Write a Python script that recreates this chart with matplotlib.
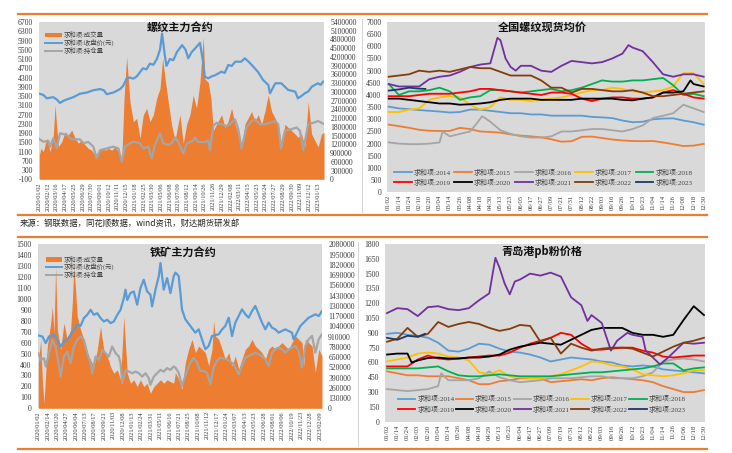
import matplotlib
matplotlib.use("Agg")
import matplotlib.pyplot as plt
from matplotlib.lines import Line2D
from matplotlib.patches import Rectangle
import numpy as np

plt.rcParams['font.family'] = ['Liberation Serif', 'Noto Sans CJK SC', 'DejaVu Sans']

ORANGE = '#ED7D31'
BLUE = '#5B9BD5'
GRAY = '#A5A5A5'
BG = '#D9D9D9'
TXT = '#3A3A3A'
CJK = ['Noto Sans CJK SC', 'DejaVu Sans']

# --------------------------------------------------------------------------- #
# Rebar main contract (x in tick-label units, one label every ~22 sessions)
# --------------------------------------------------------------------------- #
rb_dates = ['2020/01/02', '2020/02/12', '2020/03/16', '2020/04/17', '2020/05/25',
            '2020/06/29', '2020/07/30', '2020/09/01', '2020/10/12', '2020/11/11',
            '2020/12/15', '2021/01/18', '2021/02/25', '2021/03/30', '2021/05/06',
            '2021/06/08', '2021/07/09', '2021/08/12', '2021/09/14', '2021/10/26',
            '2021/11/26', '2021/12/29', '2022/02/08', '2022/03/11', '2022/04/15',
            '2022/05/23', '2022/06/24', '2022/07/27', '2022/08/29', '2022/09/30',
            '2022/11/09', '2022/12/12', '2023/01/13']

rb_close_x = [0, 0.46, 0.85, 1.6, 2.0, 2.38, 2.8, 3.15, 3.9, 4.67, 5.44, 6.2, 6.97, 7.4,
              7.74, 8.5, 9.27, 9.65, 10.03, 10.4, 10.8, 11.2, 11.9, 12.3, 12.7, 13.1,
              13.5, 13.86, 14.1, 14.4, 14.6, 15.0, 15.4, 15.8, 16.4, 16.8, 17.1, 17.5,
              17.9, 18.45, 18.8, 19.0, 19.4, 19.8, 20.2, 20.9, 21.3, 21.7, 22.1, 22.5,
              23.2, 23.6, 24.0, 24.4, 25.1, 25.7, 26.3, 26.5, 27.1, 27.8, 28.2, 28.6,
              29.4, 29.7, 30.1, 30.5, 30.9, 31.3, 32.0, 32.3, 32.6]
rb_close = [3600, 3550, 3400, 3450, 3350, 3200, 3300, 3350, 3450, 3600, 3650, 3750, 3800,
            3750, 3580, 3650, 3800, 3950, 4250, 4300, 4250, 4350, 4700, 4650, 4900, 4850,
            5100, 5500, 6200, 5300, 4800, 5100, 5050, 5400, 5700, 5500, 5130, 5400, 5560,
            5800, 5000, 4335, 4266, 4350, 4400, 4550, 4500, 4840, 4800, 4985, 4985, 5130,
            5000, 4840, 4550, 4193, 3977, 3617, 4050, 4050, 3900, 3760, 3690, 3400, 3500,
            3617, 3700, 3905, 4050, 3980, 4120]

rb_oi_x = [0, 0.46, 1.04, 1.23, 1.61, 1.99, 2.38, 3.14, 3.72, 4.67, 5.06, 5.63, 6.2, 6.59,
           6.97, 7.74, 8.5, 9.08, 9.46, 9.84, 10.41, 10.8, 11.56, 11.94, 12.52, 12.9,
           13.28, 13.86, 14.24, 14.81, 15.2, 15.58, 15.96, 16.53, 16.92, 17.68, 17.87,
           18.25, 19.02, 19.4, 19.59, 19.98, 20.36, 20.94, 21.51, 22.08, 22.47, 22.85,
           23.23, 23.8, 24.38, 24.76, 25.34, 25.91, 26.48, 27.06, 27.44, 27.75, 28.21,
           28.97, 29.55, 29.93, 30.31, 30.89, 31.46, 32.03, 32.6]
rb_oi = [1380000, 1290000, 1320000, 1120000, 1410000, 1060000, 1580000, 1520000, 1370000,
         1370000, 1240000, 1280000, 1120000, 720000, 1000000, 1060000, 1120000, 1060000,
         600000, 1120000, 1240000, 1290000, 1240000, 1060000, 1120000, 720000, 1180000,
         1580000, 1240000, 1180000, 1240000, 1440000, 1280000, 890000, 1220000, 1330000,
         1440000, 1280000, 1280000, 1330000, 1000000, 1830000, 1940000, 1890000, 1830000,
         1940000, 2060000, 1720000, 1060000, 1780000, 2000000, 2060000, 1890000, 1890000,
         1940000, 2000000, 1890000, 1060000, 1670000, 1720000, 1780000, 1670000, 1000000,
         1890000, 1940000, 2000000, 1910000]

rb_vol_x = [0, 0.19, 0.46, 0.85, 1.23, 1.61, 1.8, 2.18, 2.57, 2.95, 3.33, 3.72, 4.1, 4.48,
            4.86, 5.25, 5.63, 6.01, 6.4, 6.78, 7.16, 7.54, 7.93, 8.31, 8.69, 9.08, 9.46,
            9.73, 10.03, 10.41, 10.8, 11.18, 11.56, 11.94, 12.33, 12.71, 13.09, 13.48,
            13.86, 14.16, 14.43, 14.81, 15.2, 15.58, 16.15, 16.53, 16.92, 17.3, 17.68,
            18.06, 18.45, 18.83, 19.02, 19.4, 19.71, 19.98, 20.36, 20.94, 21.32, 21.7,
            22.08, 22.47, 22.85, 23.23, 23.61, 24.0, 24.38, 24.76, 25.15, 25.53, 25.91,
            26.29, 26.68, 27.06, 27.44, 27.82, 28.21, 28.59, 28.97, 29.35, 29.73, 30.12,
            30.5, 30.89, 31.27, 31.65, 32.03, 32.42, 32.7]
rb_volume = [830000, 1060000, 950000, 1410000, 950000, 1520000, 2550000, 1120000, 1290000,
             1630000, 1520000, 1690000, 1410000, 1240000, 1350000, 1180000, 1060000,
             1000000, 830000, 950000, 1060000, 1000000, 1060000, 1000000, 1120000, 950000,
             600000, 2780000, 4210000, 2660000, 1980000, 2090000, 1410000, 2210000,
             2440000, 1980000, 2210000, 2780000, 3120000, 4150000, 3470000, 2660000,
             1860000, 1330000, 2220000, 1220000, 1890000, 2220000, 2890000, 2440000,
             3330000, 4890000, 3440000, 3330000, 2780000, 1670000, 1890000, 2220000,
             1780000, 2000000, 2440000, 1890000, 1560000, 1110000, 1890000, 2110000,
             2330000, 2000000, 2220000, 1890000, 2330000, 2890000, 2330000, 2110000,
             1890000, 1110000, 1890000, 1780000, 1670000, 1560000, 1440000, 1560000,
             1110000, 2670000, 1560000, 1330000, 1110000, 1560000, 1610000]

# --------------------------------------------------------------------------- #
# Iron ore main contract
# --------------------------------------------------------------------------- #
io_dates = ['2020/01/02', '2020/02/14', '2020/03/20', '2020/04/27', '2020/06/04',
            '2020/07/13', '2020/08/17', '2020/09/21', '2020/11/03', '2020/12/08',
            '2021/01/13', '2021/02/24', '2021/03/31', '2021/05/11', '2021/06/16',
            '2021/07/21', '2021/08/25', '2021/10/08', '2021/11/12', '2021/12/17',
            '2022/01/24', '2022/03/07', '2022/04/13', '2022/05/23', '2022/06/28',
            '2022/08/01', '2022/09/06', '2022/10/19', '2022/11/23', '2022/12/28',
            '2023/02/09']

io_close_x = [0, 0.42, 0.78, 1.13, 1.66, 2.02, 2.37, 2.72, 3.08, 3.43, 3.78, 4.14, 4.5,
              4.85, 5.2, 5.56, 5.91, 6.27, 6.62, 6.97, 7.33, 7.68, 8.03, 8.4, 8.75, 9.1,
              9.28, 9.46, 9.81, 10.16, 10.52, 10.87, 11.22, 11.58, 11.93, 12.11, 12.47,
              12.82, 13.0, 13.35, 13.71, 14.06, 14.41, 14.59, 14.94, 15.12, 15.29, 15.65,
              16.18, 16.71, 17.07, 17.42, 17.78, 18.13, 18.49, 19.2, 19.56, 19.91, 20.27,
              20.62, 20.97, 21.33, 21.68, 22.04, 22.39, 22.75, 23.1, 23.46, 23.81, 24.17,
              24.52, 24.87, 25.23, 25.58, 25.94, 26.29, 26.65, 27.0, 27.18, 27.54, 27.9,
              28.43, 28.78, 29.14, 29.49, 29.85, 30.2]
io_close = [666, 657, 596, 657, 672, 626, 565, 611, 626, 672, 718, 764, 755, 825, 855, 901,
            855, 870, 825, 794, 810, 779, 794, 855, 901, 1008, 1085, 990, 1054, 1069, 947,
            1100, 1176, 1069, 1039, 932, 1085, 1207, 1329, 1085, 1191, 1054, 1207, 1241,
            1210, 1058, 905, 814, 753, 692, 722, 631, 540, 570, 661, 677, 722, 753, 829,
            661, 784, 844, 905, 860, 829, 890, 936, 860, 784, 722, 784, 738, 722, 692, 707,
            722, 707, 692, 631, 692, 753, 799, 829, 844, 860, 844, 890]

io_oi_x = [0, 0.25, 0.6, 0.78, 1.13, 1.49, 1.84, 2.2, 2.37, 2.72, 3.08, 3.43, 3.78, 4.14,
           4.5, 4.85, 5.2, 5.56, 5.73, 6.09, 6.44, 6.8, 7.15, 7.5, 7.86, 8.22, 8.57, 8.75,
           8.93, 9.28, 9.63, 9.99, 10.34, 10.7, 11.05, 11.4, 11.76, 11.93, 12.29, 12.64,
           13.0, 13.35, 13.71, 14.06, 14.41, 14.59, 14.94, 15.29, 15.82, 16.18, 16.53,
           16.89, 17.24, 17.6, 17.95, 18.31, 18.66, 19.02, 19.38, 20.09, 20.8, 21.15,
           21.33, 21.68, 22.04, 22.75, 23.1, 23.81, 24.17, 24.52, 24.87, 25.23, 25.58,
           25.94, 26.29, 26.65, 27.0, 27.36, 27.72, 28.07, 28.43, 28.78, 29.14, 29.49,
           29.85, 30.2]
io_oi = [699000, 614000, 635000, 530000, 699000, 868000, 783000, 530000, 402000, 656000,
         720000, 571000, 783000, 868000, 911000, 868000, 699000, 571000, 445000, 656000,
         614000, 742000, 699000, 656000, 783000, 699000, 656000, 571000, 318000, 487000,
         466000, 445000, 466000, 445000, 402000, 445000, 381000, 297000, 402000, 445000,
         487000, 466000, 509000, 487000, 530000, 516000, 452000, 283000, 473000, 580000,
         642000, 580000, 473000, 473000, 452000, 305000, 516000, 600000, 642000, 621000,
         559000, 473000, 431000, 537000, 642000, 685000, 706000, 664000, 621000, 537000,
         706000, 749000, 770000, 749000, 706000, 749000, 770000, 790000, 727000, 516000,
         790000, 875000, 918000, 706000, 875000, 939000]

io_vol_x = [0, 0.25, 0.42, 0.6, 0.95, 1.31, 1.49, 1.66, 1.84, 2.02, 2.37, 2.72, 3.08, 3.43,
            3.61, 3.78, 3.96, 4.14, 4.5, 4.85, 5.2, 5.56, 5.91, 6.27, 6.62, 6.8, 6.97,
            7.33, 7.68, 8.03, 8.4, 8.75, 9.1, 9.46, 9.81, 10.16, 10.52, 10.87, 11.22,
            11.58, 11.93, 12.29, 12.64, 13.0, 13.35, 13.71, 14.06, 14.41, 14.59, 14.94,
            15.29, 15.65, 16.0, 16.36, 16.71, 17.07, 17.42, 17.78, 18.13, 18.49, 18.66,
            18.84, 19.2, 19.56, 19.91, 20.27, 20.62, 20.97, 21.33, 21.68, 22.04, 22.39,
            22.75, 23.1, 23.46, 23.81, 24.17, 24.52, 24.87, 25.23, 25.58, 25.94, 26.29,
            26.65, 27.0, 27.36, 27.72, 28.07, 28.25, 28.43, 28.78, 29.14, 29.49, 29.85,
            30.2]
io_volume = [571000, 868000, 361000, 64000, 783000, 1080000, 1292000, 953000, 1800000,
             996000, 742000, 1080000, 868000, 996000, 1334000, 1800000, 1505000, 1165000,
             996000, 868000, 699000, 614000, 530000, 742000, 1037000, 868000, 742000,
             656000, 530000, 445000, 487000, 361000, 1165000, 445000, 318000, 361000,
             276000, 361000, 276000, 318000, 190000, 276000, 318000, 361000, 318000,
             361000, 338000, 318000, 452000, 367000, 241000, 580000, 749000, 875000,
             706000, 790000, 749000, 706000, 537000, 749000, 1108000, 918000, 875000,
             749000, 621000, 706000, 537000, 664000, 495000, 621000, 749000, 790000,
             875000, 790000, 749000, 706000, 621000, 749000, 790000, 749000, 790000,
             833000, 790000, 749000, 833000, 918000, 875000, 833000, 537000, 875000,
             833000, 790000, 453000, 749000, 664000]

# --------------------------------------------------------------------------- #
# National rebar spot average price, by year (x = date-label index)
# --------------------------------------------------------------------------- #
md_dates = ['01/02', '01/14', '01/24', '02/10', '02/20', '03/04', '03/14', '03/26',
            '04/08', '04/18', '04/30', '05/13', '05/23', '06/05', '06/17', '06/27',
            '07/09', '07/21', '07/31', '08/12', '08/22', '09/03', '09/16', '09/26',
            '10/13', '10/23', '11/04', '11/14', '11/26', '12/08', '12/18', '12/30']
days = list(range(32))

rb_spot_2014 = [3520, 3450, 3420, 3380, 3350, 3320, 3280, 3300, 3400, 3400, 3350, 3300,
                3250, 3250, 3200, 3200, 3150, 3150, 3150, 3150, 3100, 3080, 3050, 2950,
                2880, 2900, 3000, 3030, 3040, 2950, 2880, 2780]
rb_spot_2015 = [2780, 2720, 2650, 2570, 2530, 2520, 2520, 2650, 2600, 2500, 2480, 2450,
                2380, 2330, 2300, 2260, 2180, 2080, 2100, 2280, 2290, 2230, 2170, 2130,
                2110, 2100, 2110, 2050, 1980, 1900, 1920, 1990]
rb_spot_2016_x = [0, 1, 2, 3, 4, 5, 5.3, 6, 7, 8, 8.6, 9.2] + list(range(10, 32))
rb_spot_2016 = [2050, 2000, 1980, 1980, 2000, 2050, 2500, 2300, 2400, 2500, 2800, 3130,
                2900, 2550, 2400, 2300, 2250, 2250, 2300, 2500, 2500, 2550, 2600, 2600,
                2550, 2500, 2600, 2750, 3050, 3150, 3250, 3600, 3450, 3300]
rb_spot_2017 = [3300, 3300, 3400, 3450, 3800, 3900, 3950, 3900, 3600, 3400, 3500, 3900,
                3800, 3800, 3750, 3800, 3850, 3900, 4000, 4100, 4200, 4200, 4300, 4250,
                4150, 4100, 4150, 4200, 4350, 4900, 4900, 4450]
rb_spot_2018 = [4450, 4000, 4150, 4150, 4200, 4300, 4150, 3800, 3900, 3950, 4200, 4200,
                4150, 4100, 4150, 4200, 4250, 4150, 4200, 4300, 4450, 4600, 4550, 4550,
                4600, 4600, 4650, 4700, 4400, 4000, 4050, 3950]
rb_spot_2019 = [3950, 3950, 3950, 4000, 4050, 4050, 4050, 4100, 4150, 4250, 4250, 4200,
                4150, 4100, 4050, 4000, 4100, 4100, 4050, 3850, 3750, 3850, 3900, 3900,
                3850, 3850, 3900, 4100, 4200, 4050, 3900, 3850]
rb_spot_2020_x = list(range(30)) + [29.7, 30, 31]
rb_spot_2020 = [3850, 3850, 3800, 3750, 3700, 3650, 3650, 3600, 3620, 3650, 3700, 3800,
                3850, 3850, 3850, 3800, 3800, 3800, 3800, 3850, 3850, 3850, 3850, 3800,
                3780, 3850, 3900, 4100, 4100, 4150, 4600, 4450, 4350]
rb_spot_2021_x = list(range(11)) + [10.7, 11, 11.5, 12, 12.5] + list(range(13, 24)) + \
                 [23.6] + list(range(24, 32))
rb_spot_2021 = [4450, 4350, 4350, 4350, 4650, 4750, 4800, 4950, 5150, 5250, 5300, 6350,
                6250, 5500, 5150, 5000, 5200, 5200, 5000, 4950, 5200, 5400, 5350, 5300,
                5350, 5500, 5700, 6050, 5950, 5800, 5350, 4850, 4750, 4850, 4850, 4750]
rb_spot_2022 = [4750, 4800, 4850, 5000, 4950, 5000, 4950, 5050, 5150, 5100, 5100, 4950,
                4800, 4800, 4800, 4600, 4300, 4300, 4100, 4250, 4250, 4200, 4150, 4150,
                4200, 4100, 3950, 3950, 4000, 4050, 4100, 4150]
rb_spot_2023_x = [0, 1, 2, 3, 3.6]
rb_spot_2023 = [4180, 4230, 4300, 4260, 4250]

# --------------------------------------------------------------------------- #
# Qingdao port PB fines price, by year
# --------------------------------------------------------------------------- #
pb_dates = ['01/02', '01/14', '01/24', '02/03', '02/20', '03/04', '03/14', '03/26',
            '04/08', '04/18', '04/29', '05/13', '05/23', '06/04', '06/17', '06/27',
            '07/09', '07/19', '07/31', '08/12', '08/22', '09/03', '09/16', '09/26',
            '10/12', '10/23', '11/04', '11/14', '11/26', '12/06', '12/18', '12/30']

pb_2014 = [890, 900, 880, 870, 850, 800, 720, 710, 740, 790, 780, 740, 710, 700, 680, 650,
           610, 630, 650, 640, 630, 610, 600, 570, 560, 570, 560, 530, 520, 510, 500, 490]
pb_2015 = [510, 490, 470, 470, 460, 460, 460, 440, 420, 380, 380, 410, 420, 440, 440, 440,
           400, 410, 420, 430, 420, 440, 450, 440, 430, 420, 400, 360, 330, 300, 300, 320]
pb_2016_x = [0, 1, 2, 3, 4, 5, 5.3] + list(range(6, 32))
pb_2016 = [330, 320, 310, 320, 330, 360, 490, 420, 420, 420, 440, 510, 450, 420, 400, 410,
           420, 440, 440, 440, 450, 460, 460, 440, 440, 440, 460, 500, 610, 630, 640, 630,
           610]
pb_2017 = [610, 630, 650, 690, 700, 690, 660, 650, 620, 500, 480, 520, 460, 450, 440, 440,
           460, 480, 520, 560, 610, 600, 570, 560, 530, 480, 470, 460, 470, 490, 520, 520]
pb_2018 = [540, 540, 540, 540, 550, 560, 510, 470, 460, 460, 470, 480, 470, 460, 460, 460,
           460, 470, 480, 490, 500, 500, 510, 520, 530, 540, 560, 590, 590, 520, 540, 550]
pb_2019 = [560, 560, 560, 630, 670, 640, 630, 640, 650, 660, 670, 670, 700, 750, 790, 820,
           850, 900, 880, 790, 730, 730, 740, 750, 750, 720, 700, 660, 650, 660, 670, 670]
pb_2020_x = [0, 1, 2, 2.4] + list(range(3, 32))
pb_2020 = [680, 690, 690, 600, 620, 645, 650, 640, 640, 650, 650, 660, 680, 730, 760, 780,
           800, 790, 780, 830, 880, 930, 950, 950, 950, 900, 880, 880, 860, 880, 1030, 1170,
           1080]
pb_2021_x = list(range(11)) + [10.6, 11, 11.5, 12, 12.5] + list(range(13, 20)) + \
            [19.6, 20, 21, 21.9, 22.5, 23.5, 24, 25, 25.3, 26, 26.7, 27.5, 28, 29, 30, 31]
pb_2021 = [1100, 1150, 1140, 1070, 1160, 1170, 1140, 1130, 1150, 1230, 1300, 1660, 1560,
           1400, 1290, 1420, 1440, 1500, 1480, 1510, 1470, 1260, 1180, 1020, 1080, 1000,
           720, 820, 900, 880, 860, 720, 650, 580, 650, 700, 800, 790, 800]
pb_2022 = [810, 840, 950, 860, 890, 1010, 960, 990, 1010, 990, 950, 920, 940, 980, 970, 810,
           850, 690, 790, 750, 720, 740, 750, 750, 740, 700, 660, 710, 760, 800, 820, 850]
pb_2023_x = [0, 1, 2, 3, 3.7]
pb_2023 = [850, 830, 870, 860, 890]

year_labels = ['求和项:%d' % y for y in range(2014, 2024)]
year_colors = ['#5B9BD5', '#ED7D31', '#A5A5A5', '#FFC000', '#00B050',
               '#FF0000', '#000000', '#7030A0', '#843C0C', '#1F3864']

W, H = 732.0, 453.0


def box(l, t, r, b):
    """Pixel box (left, top, right, bottom) -> figure fraction rect."""
    return [l / W, 1 - b / H, (r - l) / W, (b - t) / H]


def bare(ax):
    for s in ax.spines.values():
        s.set_visible(False)
    ax.tick_params(length=0, labelsize=5.5, colors=TXT)


def futures_panel(rect, dates, xmax, vol_x, vol, oi_x, oi, cl_x, cl,
                  rticks, lticks, title, title_pos, leg_rows, leg_x):
    axr = fig.add_axes(rect)
    axr.set_facecolor(BG)
    axr.fill_between(vol_x, 0, vol, color=ORANGE, lw=0)
    axr.plot(oi_x, oi, color=GRAY, lw=1.6)
    axl = axr.twinx()
    axl.plot(cl_x, cl, color=BLUE, lw=1.6)
    axr.yaxis.tick_right()
    axl.yaxis.tick_left()
    axr.set_ylim(rticks[0], rticks[-1])
    axr.set_yticks(rticks)
    axr.set_yticklabels(['%d' % v for v in rticks])
    axl.set_ylim(lticks[0], lticks[-1])
    axl.set_yticks(lticks)
    axl.set_yticklabels(['%d' % v for v in lticks])
    axr.set_xlim(-0.04, xmax)
    axr.set_xticks(range(len(dates)))
    axr.set_xticklabels(dates, rotation=90, fontsize=4.6)
    for a in (axr, axl):
        bare(a)
    axr.tick_params(axis='y', pad=4.5)
    axl.tick_params(axis='y', pad=4.5)
    axr.tick_params(axis='x', pad=2, labelsize=4.6)
    axl.text(title_pos[0], title_pos[1], title, transform=axl.transAxes, ha='center',
             va='center', fontsize=8, fontweight='bold', family=CJK, color='#111111')
    names = ['求和项:成交量', '求和项:收盘价(元)', '求和项:持仓量']
    x0, x1 = leg_x
    axl.add_patch(Rectangle((x0, leg_rows[0] - 0.014), x1 - x0, 0.028,
                            transform=axl.transAxes, color=ORANGE, lw=0))
    axl.add_line(Line2D([x0, x1], [leg_rows[1]] * 2, transform=axl.transAxes,
                        color=BLUE, lw=1.4))
    axl.add_line(Line2D([x0, x1], [leg_rows[2]] * 2, transform=axl.transAxes,
                        color=GRAY, lw=1.4))
    for y, name in zip(leg_rows, names):
        axl.text(x1 + 0.004, y, name, transform=axl.transAxes, va='center',
                 fontsize=4.6, color='#404040', family=['Liberation Serif'] + CJK)
    return axr, axl


def season_panel(rect, dates, xlim, series, yticks, title, title_pos,
                 leg_rows, leg_x0, leg_pitch, leg_len):
    ax = fig.add_axes(rect)
    ax.set_facecolor(BG)
    for (xs, ys), col in zip(series, year_colors):
        ax.plot(xs, ys, color=col, lw=1.3, solid_joinstyle='round')
    ax.set_xlim(*xlim)
    ax.set_ylim(yticks[0], yticks[-1])
    ax.set_yticks(yticks)
    ax.set_yticklabels(['%d' % v for v in yticks])
    ax.set_xticks(range(len(dates)))
    ax.set_xticklabels(dates, rotation=90)
    bare(ax)
    ax.tick_params(axis='y', pad=4)
    ax.tick_params(axis='x', pad=2, labelsize=4.8)
    ax.text(title_pos[0], title_pos[1], title, transform=ax.transAxes, ha='center',
            va='center', fontsize=8, fontweight='bold', family=CJK, color='#111111')
    for i, (lab, col) in enumerate(zip(year_labels, year_colors)):
        r, c = divmod(i, 5)
        x0 = leg_x0 + c * leg_pitch
        y = leg_rows[r]
        ax.add_line(Line2D([x0, x0 + leg_len], [y, y], transform=ax.transAxes,
                           color=col, lw=1.3))
        ax.text(x0 + leg_len + 0.006, y, lab, transform=ax.transAxes, va='center',
                fontsize=5, color='#404040', family=['Liberation Serif'] + CJK)
    return ax


fig = plt.figure(figsize=(7.32, 4.53), dpi=100)

futures_panel(box(39, 22, 324, 179.3), rb_dates, 32.7, rb_vol_x, rb_volume,
              rb_oi_x, rb_oi, rb_close_x, rb_close,
              list(range(0, 5400001, 300000)), list(range(-100, 6701, 400)),
              '螺纹主力合约', (0.495, 0.966), [0.917, 0.866, 0.815], (0.021, 0.081))

futures_panel(box(38, 244.3, 322, 408.3), io_dates, 30.2, io_vol_x, io_volume,
              io_oi_x, io_oi, io_close_x, io_close,
              list(range(0, 2080001, 130000)), list(range(0, 1501, 100)),
              '铁矿主力合约', (0.51, 0.953), [0.908, 0.86, 0.813], (0.027, 0.085))

rb_series = [(days, rb_spot_2014), (days, rb_spot_2015), (rb_spot_2016_x, rb_spot_2016),
             (days, rb_spot_2017), (days, rb_spot_2018), (days, rb_spot_2019),
             (rb_spot_2020_x, rb_spot_2020), (rb_spot_2021_x, rb_spot_2021),
             (days, rb_spot_2022), (rb_spot_2023_x, rb_spot_2023)]
season_panel(box(387, 22, 705, 192.3), md_dates, (-0.17, 31.13), rb_series,
             list(range(0, 7001, 500)), '全国螺纹现货均价', (0.487, 0.97),
             [0.119, 0.06], 0.022, 0.190, 0.0556)

pb_series = [(days, pb_2014), (days, pb_2015), (pb_2016_x, pb_2016), (days, pb_2017),
             (days, pb_2018), (days, pb_2019), (pb_2020_x, pb_2020), (pb_2021_x, pb_2021),
             (days, pb_2022), (pb_2023_x, pb_2023)]
season_panel(box(385, 244, 705, 421.7), pb_dates, (-0.2, 31.1), pb_series,
             list(range(0, 1801, 150)), '青岛港pb粉价格', (0.49, 0.96),
             [0.128, 0.071], 0.041, 0.1806, 0.054)

# orange separators and thin grey dividers
for yy in (14, 215, 237, 449):
    fig.add_artist(Line2D([18 / W, 707 / W], [1 - yy / H] * 2, color=ORANGE, lw=1.6))
fig.add_artist(Line2D([362 / W] * 2, [1 - 19 / H, 1 - 212 / H], color='#D4D4D4', lw=0.7))
fig.add_artist(Line2D([358 / W] * 2, [1 - 242 / H, 1 - 446 / H], color='#D4D4D4', lw=0.7))

fig.text(20 / W, 1 - 223.5 / H, '来源：钢联数据，同花顺数据，wind资讯，财达期货研发部',
         fontsize=6, va='center', family=CJK, color='#222222')

fig.savefig('out.png', dpi=100)
